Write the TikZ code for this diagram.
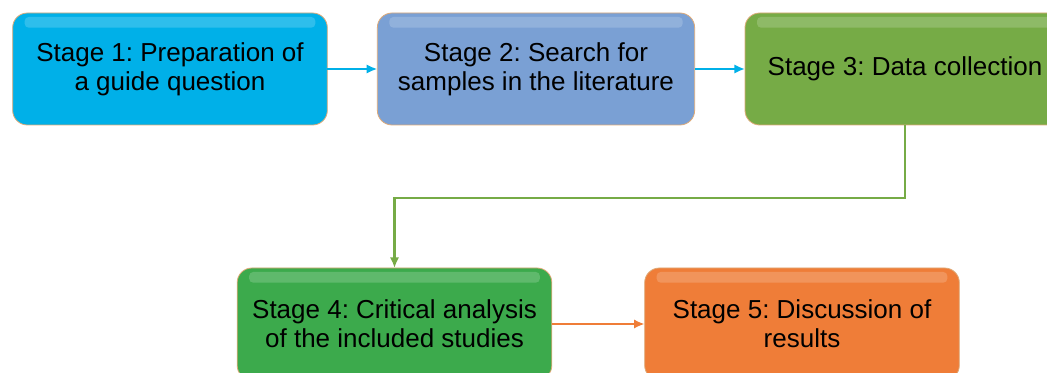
\documentclass[tikz,border=0pt]{standalone}
\usepackage{fontspec}
\setmainfont{Liberation Sans}
\usepackage{tikz}
\usetikzlibrary{arrows.meta}

\definecolor{cyanbox}{RGB}{0,176,232}
\definecolor{bluebox}{RGB}{122,160,212}
\definecolor{olivebox}{RGB}{118,171,70}
\definecolor{greenbox}{RGB}{60,170,76}
\definecolor{orangebox}{RGB}{239,125,56}
\definecolor{rimcol}{RGB}{222,170,120}

\begin{document}
\frenchspacing
\begin{tikzpicture}[x=0.75pt, y=-0.75pt, outer sep = 0pt]

\tikzstyle{stage}=[draw=rimcol, line width=0.6pt, rectangle, rounded corners=11pt, minimum height=84pt, align=center, font=\fontsize{19.5}{22}\selectfont,
  path picture={\fill[white, opacity=0.18, rounded corners=3pt] ([xshift=9pt,yshift=-3pt]path picture bounding box.north west) rectangle ([xshift=-9pt,yshift=-11pt]path picture bounding box.north east);}]
\tikzstyle{link}=[line width=1.6pt, -{Latex[length=8pt,width=7pt]}]

\clip (0,0) rectangle (1047,373);

\node[stage, fill=cyanbox, minimum width=236pt] (st1) at (170,69) {Stage 1: Preparation of\\a guide question};
\node[stage, fill=bluebox, minimum width=238pt] (st2) at (536,69) {Stage 2: Search for\\samples in the literature};
\node[stage, fill=olivebox, minimum width=240pt] (st3) at (905,69) {Stage 3: Data collection};
\node[stage, fill=greenbox, minimum width=236pt] (st4) at (394.5,324) {Stage 4: Critical analysis\\of the included studies};
\node[stage, fill=orangebox, minimum width=236pt] (st5) at (802,324) {Stage 5: Discussion of\\results};

\draw[link, cyanbox] (st1) -- (st2);
\draw[link, cyanbox] (st2) -- (st3);
\draw[link, olivebox] (st3.south) -- ++(0,73) -| (st4.north);
\draw[link, orangebox] (st4) -- (st5);
\end{tikzpicture}
\end{document}
